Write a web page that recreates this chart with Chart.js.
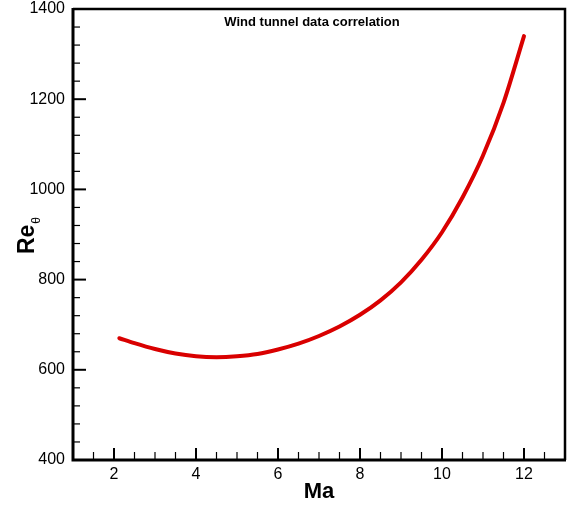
<!DOCTYPE html>
<html>
<head>
<meta charset="utf-8">
<script src="https://cdn.jsdelivr.net/npm/chart.js@4/dist/chart.umd.min.js"></script>
<style>
  html, body { margin: 0; padding: 0; background: #fff; }
  #wrap { width: 580px; height: 505px; }
</style>
</head>
<body>
<div id="wrap"><canvas id="c"></canvas></div>
<script>
// Ma vs Re_theta
const ma = [2.13, 2.5, 3.0, 3.5, 4.0, 4.5, 5.0, 5.5, 6.0, 6.5, 7.0, 7.5, 8.0, 8.5, 9.0, 9.5, 10.0, 10.5, 11.0, 11.5, 12.0];
const reTheta = [670, 659, 646, 636, 630, 628, 630, 635, 645, 658, 675, 696, 722, 754, 794, 844, 905, 982, 1075, 1192, 1340];

const xTicks = [2, 4, 6, 8, 10, 12];
const yTicks = [400, 600, 800, 1000, 1200, 1400];
const chartTitle = 'Wind tunnel data correlation';
const xTitle = 'Ma';
const yTitle = 'Re';
const ySub = 'θ';

const FONT = '"Liberation Sans", Arial, Helvetica, sans-serif';

// frame, inward ticks, titles
const framePlugin = {
  id: 'frame',
  afterDraw(chart) {
    const { ctx, chartArea: a, scales } = chart;
    const x = scales.x, y = scales.y;
    ctx.save();
    ctx.strokeStyle = '#000';

    // minor + major ticks on bottom axis
    for (let v = x.min + 0.5; v < x.max; v += 0.5) {
      const px = x.getPixelForValue(v);
      const major = xTicks.includes(v);
      ctx.lineWidth = major ? 2 : 1.2;
      ctx.beginPath();
      ctx.moveTo(px, a.bottom);
      ctx.lineTo(px, a.bottom - (major ? 12 : 8));
      ctx.stroke();
    }
    // left axis
    for (let v = y.min + 40; v < y.max; v += 40) {
      const py = y.getPixelForValue(v);
      const major = yTicks.includes(v);
      ctx.lineWidth = major ? 2 : 1.2;
      ctx.beginPath();
      ctx.moveTo(a.left, py);
      ctx.lineTo(a.left + (major ? 13 : 7), py);
      ctx.stroke();
    }

    // box
    ctx.lineWidth = 2.5;
    ctx.beginPath();
    ctx.moveTo(a.left, a.top);
    ctx.lineTo(a.right, a.top);
    ctx.lineTo(a.right, a.bottom);
    ctx.stroke();
    ctx.lineWidth = 3;
    ctx.beginPath();
    ctx.moveTo(a.left, a.top - 1);
    ctx.lineTo(a.left, a.bottom);
    ctx.lineTo(a.right + 1, a.bottom);
    ctx.stroke();

    // title inside plot
    ctx.fillStyle = '#000';
    ctx.font = 'bold 13px ' + FONT;
    ctx.textAlign = 'center';
    ctx.textBaseline = 'alphabetic';
    ctx.fillText(chartTitle, 312, a.top + 17);

    // x title
    ctx.font = 'bold 22px ' + FONT;
    ctx.fillText(xTitle, (a.left + a.right) / 2, 498);

    // y title with subscript
    ctx.translate(34, 236);
    ctx.rotate(-Math.PI / 2);
    ctx.font = 'bold 23px ' + FONT;
    const w = ctx.measureText(yTitle).width;
    ctx.font = '12px ' + FONT;
    const ws = ctx.measureText(ySub).width;
    const start = -(w + ws) / 2;
    ctx.textAlign = 'left';
    ctx.font = 'bold 23px ' + FONT;
    ctx.fillText(yTitle, start, 0);
    ctx.font = '12px ' + FONT;
    ctx.fillText(ySub, start + w + 1, 6);
    ctx.restore();
  }
};

new Chart(document.getElementById('c'), {
  type: 'line',
  data: {
    datasets: [{
      data: ma.map((m, i) => ({ x: m, y: reTheta[i] })),
      borderColor: '#d90000',
      borderWidth: 4,
      borderCapStyle: 'round',
      pointRadius: 0,
      cubicInterpolationMode: 'monotone',
      fill: false
    }]
  },
  options: {
    responsive: true,
    maintainAspectRatio: false,
    animation: false,
    layout: { padding: { left: 0, top: 9, right: 15, bottom: 0 } },
    plugins: { legend: { display: false }, tooltip: { enabled: false }, title: { display: false } },
    scales: {
      x: {
        type: 'linear',
        min: 1,
        max: 13,
        afterBuildTicks: s => { s.ticks = xTicks.map(v => ({ value: v })); },
        afterFit: s => { s.height = 45; s.paddingLeft = 0; s.paddingRight = 0; },
        grid: { display: false, drawTicks: false },
        border: { display: false },
        ticks: { color: '#000', padding: 5, font: { family: FONT, size: 16 }, maxRotation: 0, callback: v => String(v) }
      },
      y: {
        type: 'linear',
        min: 400,
        max: 1400,
        afterBuildTicks: s => { s.ticks = yTicks.map(v => ({ value: v })); },
        afterFit: s => { s.width = 73; s.paddingTop = 0; s.paddingBottom = 0; },
        grid: { display: false, drawTicks: false },
        border: { display: false },
        ticks: { color: '#000', padding: 8, font: { family: FONT, size: 16 }, callback: v => String(v) }
      }
    }
  },
  plugins: [framePlugin]
});
</script>
</body>
</html>
